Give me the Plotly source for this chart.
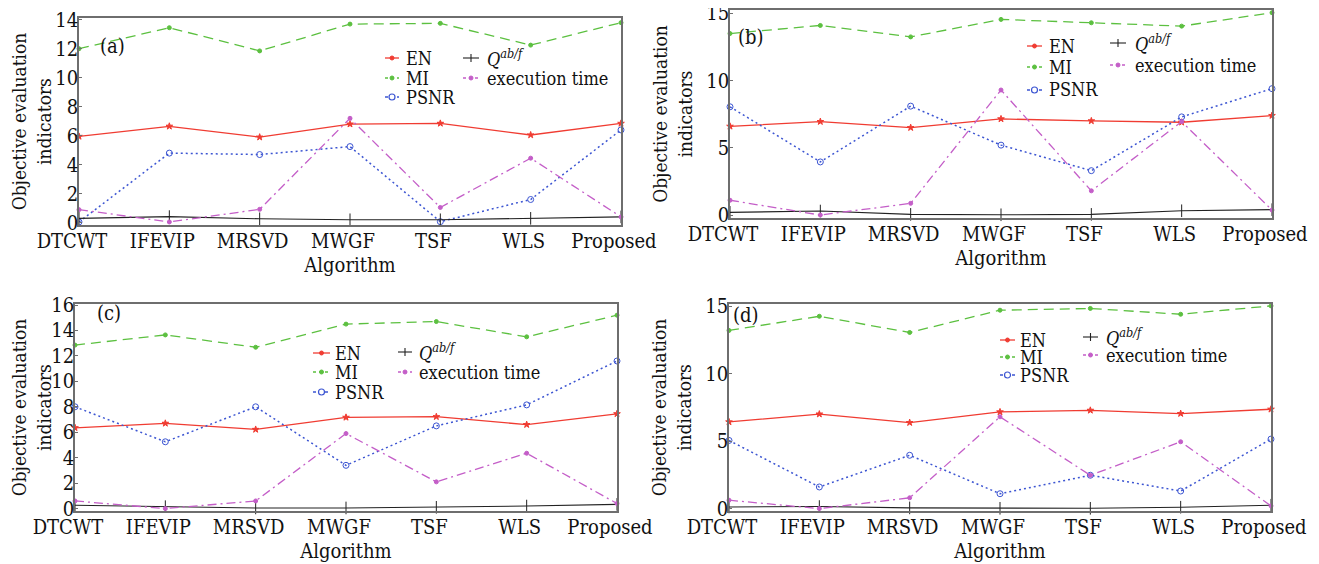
import plotly.graph_objects as go

# ---------------- data ----------------
categories = ["DTCWT", "IFEVIP", "MRSVD", "MWGF", "TSF", "WLS", "Proposed"]
series_names = ["EN", "MI", "PSNR", "Qabf", "execution time"]

# panel (a)
a_EN = [5.95, 6.65, 5.9, 6.8, 6.85, 6.05, 6.85]
a_MI = [12.0, 13.45, 11.85, 13.7, 13.75, 12.25, 13.8]
a_PSNR = [0.05, 4.8, 4.7, 5.25, 0.07, 1.6, 6.4]
a_Q = [0.3, 0.42, 0.27, 0.2, 0.2, 0.3, 0.4]
a_time = [0.9, 0.05, 0.92, 7.2, 1.05, 4.45, 0.4]

# panel (b)
b_EN = [6.6, 6.95, 6.5, 7.15, 7.0, 6.9, 7.4]
b_MI = [13.5, 14.1, 13.25, 14.55, 14.3, 14.05, 15.05]
b_PSNR = [8.05, 3.95, 8.1, 5.2, 3.3, 7.3, 9.4]
b_Q = [0.2, 0.3, 0.05, 0.02, 0.05, 0.32, 0.4]
b_time = [1.1, 0.0, 0.87, 9.3, 1.8, 6.95, 0.37]

# panel (c)
c_EN = [6.35, 6.7, 6.22, 7.17, 7.22, 6.6, 7.45]
c_MI = [12.85, 13.65, 12.68, 14.5, 14.7, 13.5, 15.2]
c_PSNR = [8.0, 5.25, 8.0, 3.4, 6.5, 8.15, 11.6]
c_Q = [0.26, 0.15, 0.05, 0.05, 0.1, 0.2, 0.33]
c_time = [0.6, 0.0, 0.6, 5.9, 2.1, 4.35, 0.4]

# panel (d)
d_EN = [6.42, 7.0, 6.37, 7.16, 7.28, 7.04, 7.36]
d_MI = [13.2, 14.25, 13.05, 14.7, 14.83, 14.4, 15.02]
d_PSNR = [5.05, 1.6, 3.95, 1.1, 2.47, 1.3, 5.15]
d_Q = [0.12, 0.15, 0.05, 0.02, 0.02, 0.1, 0.25]
d_time = [0.62, 0.0, 0.8, 6.8, 2.47, 4.95, 0.2]

y_ticks_a = [0, 2, 4, 6, 8, 10, 12, 14]
y_ticks_b = [0, 5, 10, 15]
y_ticks_c = [0, 2, 4, 6, 8, 10, 12, 14, 16]
y_ticks_d = [0, 5, 10, 15]

panel_labels = ["(a)", "(b)", "(c)", "(d)"]

# ---------------- styling / layout ----------------
# the page body has an 8px default margin; the figure fills the rest of the window
OFF = 8
W, H = 1319 - OFF, 564 - OFF
FAM = "DejaVu Serif Condensed, Liberation Serif, serif"
TXT = "#111111"


def fnt(size):
    return dict(size=size, family=FAM, color=TXT)


def px(x):
    return (x - OFF) / W


def py(y):
    return 1 - (y - OFF) / H


styles = {
    "EN": dict(color="#f03c32", dash="solid", symbol="star", size=5, width=1.3),
    "MI": dict(color="#5cc040", dash="10px,6px", symbol="circle", size=4, width=1.3),
    "PSNR": dict(color="#3c55d2", dash="2px,3px", symbol="circle-open", size=6, width=1.5),
    "Qabf": dict(color="#222222", dash="solid", symbol="line-ns", size=9, width=1.1),
    "execution time": dict(color="#c45ec8", dash="9px,4px,2px,4px", symbol="circle", size=4, width=1.3),
}
legend_labels = {
    "EN": "EN", "MI": "MI", "PSNR": "PSNR",
    "Qabf": "<i>Q</i><sup><i>ab/f</i></sup>", "execution time": "execution time",
}

panels = [
    dict(data=[a_EN, a_MI, a_PSNR, a_Q, a_time], ticks=y_ticks_a,
         box=(79, 621, 18, 225), yr=[-0.16, 14.12],
         lab=(98, 32),
         c1=(385, 399, 404, [58, 78, 97]), c2=(463, 479, 485, [58, 78])),
    dict(data=[b_EN, b_MI, b_PSNR, b_Q, b_time], ticks=y_ticks_b,
         box=(730, 1272, 10, 218), yr=[-0.22, 15.25],
         lab=(751, 23),
         c1=(1027, 1042, 1047, [46, 67, 90]), c2=(1110, 1126, 1133, [43, 65])),
    dict(data=[c_EN, c_MI, c_PSNR, c_Q, c_time], ticks=y_ticks_c,
         box=(75, 617, 304, 511), yr=[-0.19, 16.08],
         lab=(95, 313),
         c1=(313, 330, 333, [353, 372, 392]), c2=(398, 412, 417, [352, 372])),
    dict(data=[d_EN, d_MI, d_PSNR, d_Q, d_time], ticks=y_ticks_d,
         box=(729, 1271, 304, 511), yr=[-0.18, 15.16],
         lab=(746, 315),
         c1=(1000, 1015, 1018, [340, 357, 375]), c2=(1083, 1098, 1104, [337, 355])),
]

fig = go.Figure()
layout = dict(
    width=W, height=H, margin=dict(l=0, r=0, t=0, b=0),
    paper_bgcolor="white", plot_bgcolor="white", showlegend=False,
    font=fnt(21),
)
annotations = []
shapes = []

for i, p in enumerate(panels):
    n = "" if i == 0 else str(i + 1)
    xa, ya = "x" + n, "y" + n
    x0, x1, y0, y1 = p["box"]
    for name, vals in zip(series_names, p["data"]):
        s = styles[name]
        fig.add_trace(go.Scatter(
            x=categories, y=vals, xaxis=xa, yaxis=ya, mode="lines+markers",
            name=name, cliponaxis=False,
            line=dict(color=s["color"], dash=s["dash"], width=s["width"]),
            marker=dict(symbol=s["symbol"], size=s["size"], color=s["color"],
                        line=dict(color=s["color"], width=1)),
        ))
    layout["xaxis" + n] = dict(
        domain=[px(x0), px(x1)], anchor=ya, type="category", range=[0, 6],
        automargin=False,
        showline=True, mirror=True, linecolor="#6e6e6e", linewidth=1.5,
        showgrid=False, zeroline=False, ticks="",
        tickfont=fnt(20),
        ticklabelshift=-7, ticklabelstandoff=-3,
        title=dict(text="Algorithm", font=fnt(20), standoff=2),
    )
    layout["yaxis" + n] = dict(
        domain=[py(y1), py(y0)], anchor=xa, range=p["yr"],
        automargin=False, ticklabeloverflow="allow",
        tickvals=p["ticks"], showline=True, mirror=True, linecolor="#6e6e6e",
        linewidth=1.5, showgrid=False, zeroline=False, ticks="inside",
        ticklen=3, tickcolor="#6e6e6e",
        tickfont=fnt(20), ticklabelstandoff=-5,
        title=dict(text="Objective evaluation<br>indicators",
                   font=fnt(19), standoff=9),
    )
    # panel label
    annotations.append(dict(text=panel_labels[i], x=px(p["lab"][0]), y=py(p["lab"][1]),
                            xref="paper", yref="paper", showarrow=False,
                            font=fnt(20)))
    # legend (two columns)
    cols = [(p["c1"], ["EN", "MI", "PSNR"]), (p["c2"], ["Qabf", "execution time"])]
    for (gx0, gx1, tx, rows), names in cols:
        for name, ry in zip(names, rows):
            s = styles[name]
            shapes.append(dict(type="line", xref="paper", yref="paper",
                               x0=px(gx0), x1=px(gx1), y0=py(ry), y1=py(ry),
                               line=dict(color=s["color"], width=s["width"],
                                         dash="solid" if s["dash"] == "solid" else "dot")))
            cx = (gx0 + gx1) / 2
            if name == "PSNR":
                shapes.append(dict(type="circle", xref="paper", yref="paper",
                                   x0=px(cx - 3), x1=px(cx + 3), y0=py(ry + 3), y1=py(ry - 3),
                                   line=dict(color=s["color"], width=1.2), fillcolor="white"))
            elif name == "Qabf":
                shapes.append(dict(type="line", xref="paper", yref="paper",
                                   x0=px(cx), x1=px(cx), y0=py(ry + 4), y1=py(ry - 4),
                                   line=dict(color=s["color"], width=1.1)))
            else:
                shapes.append(dict(type="circle", xref="paper", yref="paper",
                                   x0=px(cx - 2), x1=px(cx + 2), y0=py(ry + 2), y1=py(ry - 2),
                                   line=dict(color=s["color"], width=1), fillcolor=s["color"]))
            annotations.append(dict(text=legend_labels[name], x=px(tx), y=py(ry),
                                    xref="paper", yref="paper", xanchor="left",
                                    yanchor="middle", showarrow=False,
                                    font=fnt(18)))

layout["annotations"] = annotations
layout["shapes"] = shapes
fig.update_layout(**layout)
fig.write_html("out.html")
